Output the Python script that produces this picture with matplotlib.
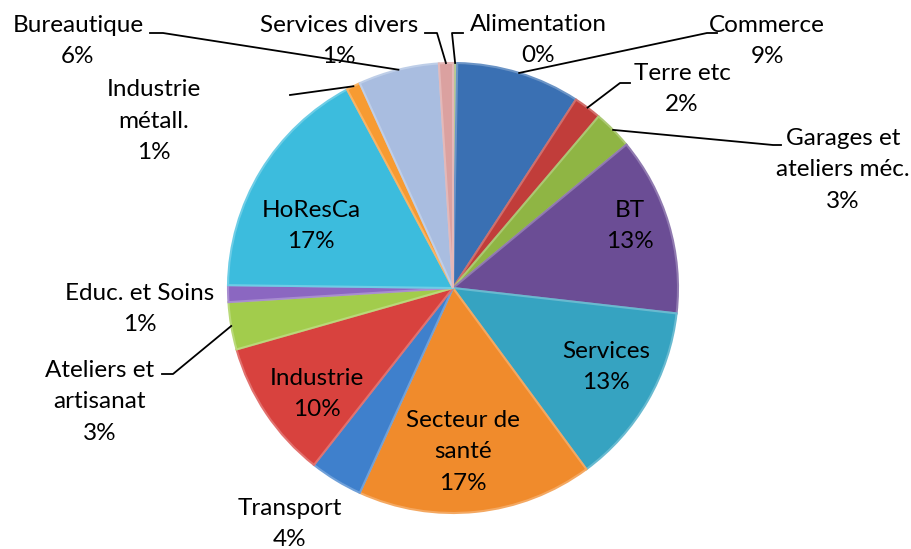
import numpy as np
import matplotlib.pyplot as plt
import matplotlib.colors as mcolors

plt.rcParams['font.family'] = ['Lato', 'DejaVu Sans']

# data, clockwise from 12 o'clock
labels = ['Alimentation', 'Commerce', 'Terre etc', 'Garages et\nateliers méc.', 'BT',
          'Services', 'Secteur de\nsanté', 'Transport', 'Industrie', 'Ateliers et\nartisanat',
          'Educ. et Soins', 'HoResCa', 'Industrie\nmétall.', 'Bureautique', 'Services divers']
values = [0.3, 8.9, 2.0, 2.8, 12.8, 13.1, 16.9, 3.8, 10.0, 3.4, 1.2, 17.0, 1.0, 5.8, 1.0]
colors = ['#b5c994', '#3a70b3', '#c13d3a', '#8fb544', '#6b4d95', '#36a3c1', '#f08b2c',
          '#3f80cc', '#d8423e', '#a2cc4c', '#8b67c1', '#3cbcdd', '#f79b32', '#a9bde0', '#dba1a0']

# label placement (pixels from top-left); elbow points for leader lines
label_pos = [(538, 40), (767, 41), (682, 89), (843, 170), (630, 226),
             (606, 367), (463, 452), (290, 524), (317, 394), (100, 402),
             (140, 309), (311, 226), (154, 121), (78, 41), (339, 41)]
leaders = {0: [(452, 33), (463, 33)], 1: [(707, 33), (717, 33)], 2: [(620, 83), (630, 83)],
           3: [(773, 145), (781, 145)], 9: [(173, 374), (162, 374)], 12: [(290, 95)],
           13: [(163, 33), (150, 33)], 14: [(437, 33), (425, 33)]}

W, H = 911, 549
cx, cy, r = 453, 288, 225

fig = plt.figure(figsize=(W / 100, H / 100), dpi=100)
ax = fig.add_axes([0, 0, 1, 1])

edge = [mcolors.to_hex([min(1, c * 0.75 + 0.25) for c in mcolors.to_rgb(col)]) for col in colors]
wedges, _ = ax.pie(values, colors=colors, startangle=90, counterclock=False,
                   center=(cx, H - cy), radius=r,
                   wedgeprops=dict(linewidth=1.5))
for w, e in zip(wedges, edge):
    w.set_edgecolor(e)

ax.set_xlim(0, W)
ax.set_ylim(0, H)
ax.set_aspect('equal')
ax.axis('off')

total = sum(values)
for i, (w, lab) in enumerate(zip(wedges, labels)):
    pct = round(values[i] / total * 100)
    x, y = label_pos[i]
    ax.text(x, H - y, f'{lab}\n{pct}%', ha='center', va='center', fontsize=17.5,
            linespacing=1.6, color='black')
    if i in leaders:
        mid = np.deg2rad((w.theta1 + w.theta2) / 2)
        pts = [(cx + r * np.cos(mid), H - cy + r * np.sin(mid))]
        pts += [(px, H - py) for px, py in leaders[i]]
        xs, ys = zip(*pts)
        ax.plot(xs, ys, color='black', linewidth=1.3)

fig.savefig('out.png', dpi=100)
